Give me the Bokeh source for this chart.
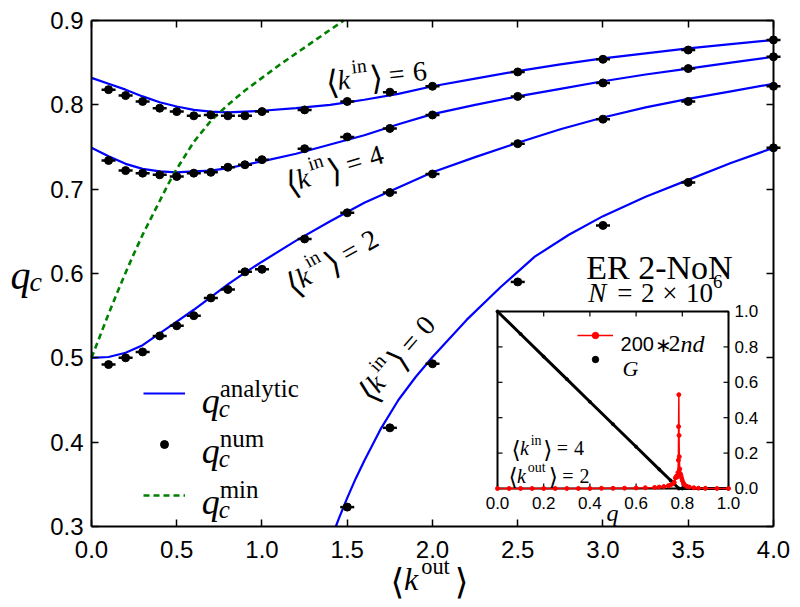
import math
from bokeh.plotting import figure
from bokeh.models import (Range1d, LinearAxis, FixedTicker, PrintfTickFormatter,
                          CustomJSTickFormatter, Label, Legend, LegendItem)
from bokeh.embed import file_html
from bokeh.resources import INLINE
from bokeh.core.properties import value

# ---------------- data ----------------
x_lim = [0.0, 4.0]
y_lim = [0.3, 0.9]
x_ticks = [0.0, 0.5, 1.0, 1.5, 2.0, 2.5, 3.0, 3.5, 4.0]
y_ticks = [0.3, 0.4, 0.5, 0.6, 0.7, 0.8, 0.9]

# analytic q_c curves vs <k_out>
k_an = [0.0, 0.1, 0.2, 0.3, 0.4, 0.5, 0.6, 0.7, 0.8, 0.9, 1.0, 1.2, 1.4, 1.6, 1.8,
        2.0, 2.25, 2.5, 2.75, 3.0, 3.25, 3.5, 3.75, 4.0]
qc_an_6 = [0.832, 0.825, 0.818, 0.810, 0.803, 0.798, 0.794, 0.792, 0.791, 0.792, 0.793,
           0.796, 0.800, 0.806, 0.813, 0.822, 0.831, 0.840, 0.848, 0.855, 0.861, 0.867,
           0.872, 0.877]
qc_an_4 = [0.749, 0.739, 0.730, 0.724, 0.721, 0.720, 0.721, 0.722, 0.725, 0.729, 0.733,
           0.742, 0.753, 0.764, 0.777, 0.789, 0.800, 0.810, 0.819, 0.828, 0.836, 0.843,
           0.850, 0.857]
qc_an_2 = [0.500, 0.501, 0.506, 0.515, 0.529, 0.543, 0.557, 0.572, 0.587, 0.601, 0.614,
           0.639, 0.662, 0.684, 0.702, 0.720, 0.738, 0.755, 0.771, 0.785, 0.797, 0.807,
           0.816, 0.825]
k_an_0 = [1.433, 1.45, 1.5, 1.55, 1.6, 1.7, 1.8, 1.9, 2.0, 2.2, 2.4, 2.6, 2.8, 3.0,
          3.25, 3.5, 3.75, 4.0]
qc_an_0 = [0.300, 0.309, 0.334, 0.357, 0.378, 0.417, 0.450, 0.477, 0.501, 0.545,
           0.584, 0.620, 0.646, 0.668, 0.691, 0.711, 0.731, 0.749]

# numerical q_c
k_num = [0.1, 0.2, 0.3, 0.4, 0.5, 0.6, 0.7, 0.8, 0.9, 1.0, 1.25, 1.5, 1.75, 2.0, 2.5,
         3.0, 3.5, 4.0]
qc_num_6 = [0.818, 0.811, 0.804, 0.796, 0.792, 0.787, 0.788, 0.787, 0.787, 0.792, 0.794,
            0.804, 0.815, 0.822, 0.839, 0.854, 0.865, 0.877]
qc_num_4 = [0.734, 0.722, 0.719, 0.717, 0.715, 0.719, 0.720, 0.726, 0.729, 0.735, 0.748,
            0.762, 0.772, 0.788, 0.810, 0.826, 0.843, 0.857]
qc_num_2 = [0.492, 0.500, 0.507, 0.526, 0.538, 0.550, 0.571, 0.581, 0.602, 0.605, 0.641,
            0.672, 0.696, 0.718, 0.754, 0.783, 0.804, 0.822]
k_num_0 = [1.5, 1.75, 2.0, 2.5, 3.0, 3.5, 4.0]
qc_num_0 = [0.323, 0.417, 0.493, 0.590, 0.657, 0.708, 0.749]

# q_c^min
k_min = [0.0, 0.05, 0.1, 0.15, 0.2, 0.25, 0.3, 0.35, 0.4, 0.45, 0.5, 0.6, 0.7, 0.8, 0.9,
         1.0, 1.1, 1.2, 1.3, 1.4, 1.48]
qc_min = [0.500, 0.526, 0.552, 0.577, 0.601, 0.624, 0.646, 0.666, 0.686, 0.706, 0.724,
          0.756, 0.781, 0.800, 0.817, 0.832, 0.847, 0.861, 0.875, 0.889, 0.900]

# inset: G(q) and 200*2nd derivative
inset_ticks = [0.0, 0.2, 0.4, 0.6, 0.8, 1.0]
inset_tick_labels = ["0.0", "0.2", "0.4", "0.6", "0.8", "1.0"]
inset_lim = [0.0, 1.0]
q_G = [0.0, 0.1, 0.2, 0.3, 0.4, 0.5, 0.6, 0.7, 0.75, 0.785, 0.8, 0.9, 1.0]
G_vals = [1.0, 0.873, 0.745, 0.618, 0.490, 0.363, 0.236, 0.108, 0.045, 0.0, 0.0, 0.0, 0.0]
q_2nd = [0.00, 0.05, 0.10, 0.15, 0.20, 0.25, 0.30, 0.35, 0.40, 0.45,
         0.50, 0.55, 0.60, 0.64, 0.68, 0.70, 0.72, 0.74, 0.75, 0.76,
         0.765, 0.77, 0.775, 0.778, 0.781, 0.783, 0.784, 0.785, 0.786, 0.787,
         0.789, 0.791, 0.794, 0.797, 0.80, 0.805, 0.81, 0.82, 0.83, 0.85,
         0.87, 0.90, 0.95, 1.00]
sec_2nd = [0, 0, 0, 0, 0, 0, 0, 0, 0, 0.001,
           0.001, 0.002, 0.003, 0.004, 0.006, 0.008, 0.011, 0.016, 0.020, 0.028,
           0.035, 0.060, 0.070, 0.065, 0.090, 0.160, 0.350, 0.530, 0.300, 0.180,
           0.110, 0.085, 0.075, 0.060, 0.045, 0.030, 0.020, 0.012, 0.008, 0.004,
           0.002, 0.001, 0, 0]

# ---------------- figure ----------------
SANS = "Liberation Sans"
SERIF = "Liberation Serif"
BR = "DejaVu Sans"

# The frame fills the whole canvas; the visible box is drawn by four fixed-location axes,
# so that every text (also those outside the box) lies inside the frame.
p = figure(width=800, height=605, output_backend="svg", toolbar_location=None,
           x_range=Range1d(-0.53372, 4.15836), y_range=Range1d(0.20632, 0.92372),
           min_border_left=0, min_border_right=0, min_border_top=0, min_border_bottom=0)
p.background_fill_color = "white"
p.border_fill_color = "white"
p.outline_line_color = None
p.grid.visible = False
p.xaxis.visible = False
p.yaxis.visible = False

# inset ranges (inset axes 0..1 mapped onto its box)
p.extra_x_ranges = {"qx": Range1d(-2.15152, 1.31169)}
p.extra_y_ranges = {"qy": Range1d(-0.66102, 2.75706)}


def make_axis(ticks, loc, bounds, labels):
    ax = LinearAxis(ticker=FixedTicker(ticks=ticks), fixed_location=loc, bounds=bounds)
    ax.axis_line_width = 2
    ax.axis_line_color = "black"
    ax.major_tick_in = 7
    ax.major_tick_out = 0
    ax.major_tick_line_width = 1.5
    ax.major_tick_line_color = "black"
    ax.minor_tick_line_color = None
    if labels:
        ax.formatter = PrintfTickFormatter(format="%.1f")
        ax.major_label_text_font = SANS
        ax.major_label_text_font_size = "24px"
        ax.major_label_text_color = "black"
    else:
        ax.formatter = CustomJSTickFormatter(code="return ''")
        ax.major_label_text_font_size = "1px"
    return ax


ax_b = make_axis(x_ticks, y_lim[0], (x_lim[0], x_lim[1]), True)
ax_b.major_label_standoff = 15
ax_l = make_axis(y_ticks, x_lim[0], (y_lim[0], y_lim[1]), True)
ax_l.major_label_standoff = 8
ax_t = make_axis(x_ticks, y_lim[1], (x_lim[0], x_lim[1]), False)
ax_r = make_axis(y_ticks, x_lim[1], (y_lim[0], y_lim[1]), False)
p.add_layout(ax_b, "below")
p.add_layout(ax_l, "left")
p.add_layout(ax_t, "above")
p.add_layout(ax_r, "right")

BLUE = "#0000ff"
GREEN = "#008000"

r_an = p.line(k_an, qc_an_6, line_color=BLUE, line_width=2.2)
p.line(k_an, qc_an_4, line_color=BLUE, line_width=2.2)
p.line(k_an, qc_an_2, line_color=BLUE, line_width=2.2)
p.line(k_an_0, qc_an_0, line_color=BLUE, line_width=2.2)

r_min = p.line(k_min, qc_min, line_color=GREEN, line_width=2.6, line_dash="6 4")

r_num = None
for kx, qy in [(k_num, qc_num_6), (k_num, qc_num_4), (k_num, qc_num_2), (k_num_0, qc_num_0)]:
    p.scatter(kx, qy, marker="dash", size=14, line_color="black", line_width=2.5)
    rr = p.scatter(kx, qy, marker="circle", size=8, fill_color="black", line_color="black")
    if r_num is None:
        r_num = rr

# ---------------- inset ----------------
p.quad(left=[inset_lim[0]], right=[inset_lim[1]], bottom=[inset_lim[0]], top=[inset_lim[1]],
       x_range_name="qx", y_range_name="qy", fill_color="white", line_color="black",
       line_width=2)
n = len(inset_ticks)
ray_kw = dict(x_range_name="qx", y_range_name="qy", length=5, length_units="screen",
              line_color="black", line_width=1.2)
p.ray(x=inset_ticks, y=[inset_lim[0]] * n, angle=math.pi / 2, **ray_kw)
p.ray(x=inset_ticks, y=[inset_lim[1]] * n, angle=-math.pi / 2, **ray_kw)
p.ray(x=[inset_lim[0]] * n, y=inset_ticks, angle=0.0, **ray_kw)
p.ray(x=[inset_lim[1]] * n, y=inset_ticks, angle=math.pi, **ray_kw)
p.text(x=inset_ticks, y=[inset_lim[0]] * n, text=inset_tick_labels, x_range_name="qx",
       y_range_name="qy", y_offset=15, text_align="center", text_baseline="middle",
       text_font=value(SANS), text_font_size=value("17px"), text_color="black")
p.text(x=[inset_lim[1]] * n, y=inset_ticks, text=inset_tick_labels, x_range_name="qx",
       y_range_name="qy", x_offset=6, text_align="left", text_baseline="middle",
       text_font=value(SANS), text_font_size=value("17px"), text_color="black")

p.line(q_G, G_vals, x_range_name="qx", y_range_name="qy", line_color="black", line_width=3)
r_G = p.scatter(q_G, G_vals, x_range_name="qx", y_range_name="qy", marker="circle",
                size=3, fill_color="black", line_color="black")
r_red_l = p.line(q_2nd, sec_2nd, x_range_name="qx", y_range_name="qy", line_color="red",
                 line_width=1.5)
r_red_p = p.scatter(q_2nd, sec_2nd, x_range_name="qx", y_range_name="qy", marker="circle",
                    size=4, fill_color="red", line_color="red")

# ---------------- legends (glyph keys; labels are composed text) ----------------
leg_kw = dict(padding=0, margin=0, border_line_color=None, background_fill_alpha=0,
              label_text_font_size="6px", label_standoff=0, label_width=1)
main_leg = Legend(items=[LegendItem(label=" ", renderers=[r_an]),
                         LegendItem(label=" ", renderers=[r_num]),
                         LegendItem(label=" ", renderers=[r_min])],
                  location=(143, 100), glyph_width=42, glyph_height=20, label_height=20,
                  spacing=31, **leg_kw)
p.add_layout(main_leg)
inset_leg = Legend(items=[LegendItem(label=" ", renderers=[r_red_l, r_red_p]),
                          LegendItem(label=" ", renderers=[r_G])],
                   location=(577, 238), glyph_width=36, glyph_height=16, label_height=16,
                   spacing=8, **leg_kw)
p.add_layout(inset_leg)


# ---------------- text helpers ----------------
def put(pieces, x, y, angle_deg=0.0, xr="default", yr="default"):
    a = math.radians(angle_deg)
    ca, sa = math.cos(a), math.sin(a)
    for txt, font, style, size, dx, dy in pieces:
        p.add_layout(Label(x=x, y=y, x_range_name=xr, y_range_name=yr,
                           x_offset=dx * ca - dy * sa, y_offset=dx * sa + dy * ca,
                           angle=a, text=txt, text_font=font, text_font_style=style,
                           text_font_size=f"{size:.1f}px", text_color="black",
                           text_align="left", text_baseline="alphabetic"))


def compose(tokens, S):
    out, cx = [], 0.0
    for txt, font, style, scale, w_em, dy_em, gap_em in tokens:
        cx += gap_em * S
        out.append((txt, font, style, S * scale, cx, dy_em * S))
        cx += w_em * S
    return out


def kbracket(sup, sup_w, tail=None, br_scale=1.18):
    t = [("⟨", BR, "normal", br_scale, .42, -.06, 0),
         ("k", SERIF, "italic", 1, .50, 0, 0),
         (sup, SERIF, "normal", .7, sup_w * .7, .42, .04),
         ("⟩", BR, "normal", br_scale, .42, -.06, .04)]
    if tail is not None:
        t += [("=", SERIF, "normal", 1, .60, 0, .26),
              (tail, SERIF, "normal", 1, .5, 0, .26)]
    return t


# curve labels
put(compose(kbracket("in", .834, "6"), 28), 1.3744, 0.8277, 6)
put(compose(kbracket("in", .834, "4"), 28), 1.1395, 0.7067, 17)
put(compose(kbracket("in", .834, "2"), 28), 1.1495, 0.5852, 29)
put(compose(kbracket("in", .834, "0"), 28), 1.5960, 0.4540, 49)

# axis labels
put(compose(kbracket("out", 1.445, br_scale=1.1), 32), 1.7537, 0.2372)
put([("q", SERIF, "italic", 40, 0, 0), ("c", SERIF, "italic", 28, 19, -6)], -0.4751, 0.5976)

# main legend labels
for sup, yy in [("analytic", 0.4494), ("num", 0.3901), ("min", 0.3296)]:
    put([("q", SERIF, "italic", 36, 0, 0),
         (sup, SERIF, "normal", 25, 18, 12),
         ("c", SERIF, "italic", 25, 17, -8)], 0.646, yy)

# title texts
put([("ER 2-NoN", SERIF, "normal", 34, 0, 0)], 2.902, 0.607)
put(compose([("N", SERIF, "italic", 1, .80, 0, 0),
             ("=", SERIF, "normal", 1, .60, 0, .28),
             ("2", SERIF, "normal", 1, .5, 0, .28),
             ("×", SERIF, "normal", 1, .6, 0, .28),
             ("10", SERIF, "normal", 1, 1.0, 0, .28),
             ("6", SERIF, "normal", .7, .35, .45, 0)], 27), 2.913, 0.5765)

# inset texts
put(compose(kbracket("in", .834, "4"), 20), 0.0606, 0.226, 0, "qx", "qy")
put(compose(kbracket("out", 1.445, "2"), 20), 0.0476, 0.0734, 0, "qx", "qy")
put([("q", SERIF, "italic", 24, 0, 0)], 0.4719, -0.1356, 0, "qx", "qy")
put([("200", SANS, "normal", 20, 0, 0),
     ("∗", SANS, "normal", 20, 34, -1),
     ("2", SERIF, "normal", 24, 48, 0),
     ("nd", SERIF, "italic", 24, 60, 0)], 0.5325, 0.8192, 0, "qx", "qy")
put([("G", SERIF, "italic", 22, 0, 0)], 0.5411, 0.678, 0, "qx", "qy")

open("out.html", "w").write(file_html(p, INLINE))
